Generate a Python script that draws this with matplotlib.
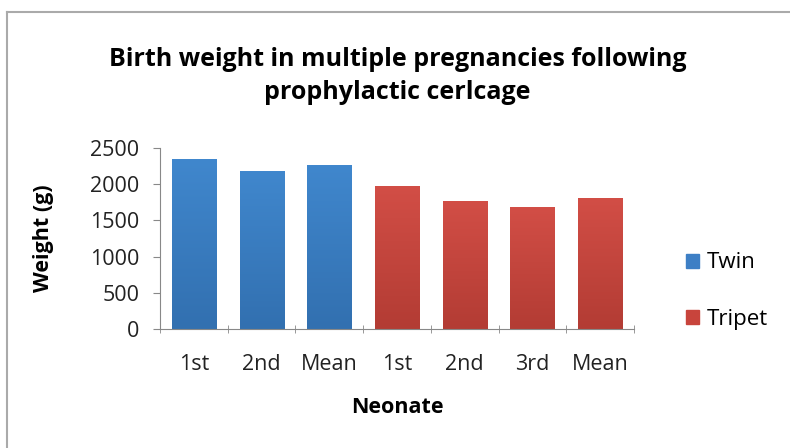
import numpy as np
import matplotlib.pyplot as plt
from matplotlib.colors import LinearSegmentedColormap
from matplotlib.lines import Line2D
from matplotlib.patches import Patch

plt.rcParams['font.family'] = ['Open Sans', 'DejaVu Sans']

# data
labels = ['1st', '2nd', 'Mean', '1st', '2nd', '3rd', 'Mean']
twin_vals = [2345, 2180, 2265]
triplet_vals = [1980, 1770, 1685, 1815]

blue_top, blue_bot = '#4087cd', '#3270b0'
red_top, red_bot = '#d24e46', '#b33c34'

fig = plt.figure(figsize=(7.9, 4.48), dpi=100)
ax = fig.add_axes([0.2025, 0.2656, 0.6, 0.404])

x = np.arange(len(labels))
vals = twin_vals + triplet_vals
groups = ['twin'] * len(twin_vals) + ['triplet'] * len(triplet_vals)
bars = ax.bar(x, vals, width=0.65, color='none', edgecolor='none', zorder=2)

grad = np.linspace(1, 0, 100).reshape(-1, 1)
cmaps = {
    'twin': LinearSegmentedColormap.from_list('b', [blue_bot, blue_top]),
    'triplet': LinearSegmentedColormap.from_list('r', [red_bot, red_top]),
}
for b, g in zip(bars, groups):
    x0, w, h = b.get_x(), b.get_width(), b.get_height()
    im = ax.imshow(grad, cmap=cmaps[g], aspect='auto',
                   extent=(x0, x0 + w, 0, h), zorder=2, vmin=0, vmax=1)
    im.set_clip_path(b)

ax.set_xlim(-0.5, len(labels) - 0.5)
ax.set_ylim(0, 2500)
ax.set_yticks(range(0, 2501, 500))
ax.set_xticks(x)
ax.set_xticklabels(labels)
ax.set_xticks(np.arange(-0.5, len(labels), 1), minor=True)
ax.tick_params(axis='x', which='major', length=0, pad=18, labelsize=15.5, colors='#222222')
ax.tick_params(axis='x', which='minor', length=6, direction='inout', color='#888888')
ax.tick_params(axis='y', length=5, direction='out', color='#888888', labelsize=15.5,
               labelcolor='#222222', pad=10)

for s in ['top', 'right']:
    ax.spines[s].set_visible(False)
for s in ['left', 'bottom']:
    ax.spines[s].set_color('#888888')

ax.set_xlabel('Neonate', fontsize=15.5, fontweight='bold', labelpad=16)
ax.set_ylabel('Weight (g)', fontsize=15.5, fontweight='bold', labelpad=26)

fig.text(0.503, 0.83, 'Birth weight in multiple pregnancies following\nprophylactic cerlcage',
         ha='center', va='center', fontsize=18, fontweight='bold', linespacing=1.4)

handles = [Patch(color='#3d7fc5'), Patch(color='#c8443c')]
fig.legend(handles, ['Twin', 'Tripet'], loc='center left', bbox_to_anchor=(0.843, 0.35),
           frameon=False, fontsize=16, handlelength=0.6, handleheight=0.6,
           handletextpad=0.35, labelspacing=1.6)

# outer chart frame (only left and top visible in the reference)
fig.add_artist(Line2D([0.009, 0.009], [0, 0.973], color='#aaaaaa', lw=1.5))
fig.add_artist(Line2D([0.009, 1.0], [0.973, 0.973], color='#aaaaaa', lw=1.5))

fig.savefig('out.png', dpi=100)
